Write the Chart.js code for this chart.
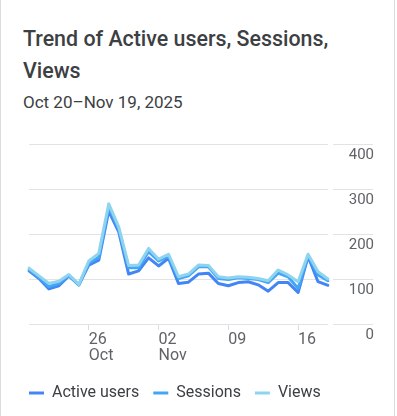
<!DOCTYPE html>
<html>
<head>
<meta charset="utf-8">
<script src="https://cdn.jsdelivr.net/npm/chart.js@4"></script>
<style>
  body { margin: 0; background: #fff; font-family: Roboto, sans-serif; }
  .card { position: relative; width: 393px; height: 416px; border-left: 1px solid #dadce0; border-right: 1px solid #dadce0; }
  .title { position: absolute; left: 22px; top: 23px; width: 360px; font-size: 21.4px; font-weight: 500; line-height: 32px; color: #3c4043; }
  .sub { position: absolute; left: 22px; top: 92px; font-size: 17px; line-height: 20px; color: #3c4043; }
  .box { position: absolute; left: 0; top: 130px; width: 393px; height: 286px; }
</style>
</head>
<body>
<div class="card">
  <div class="title">Trend of Active users, Sessions, Views</div>
  <div class="sub">Oct 20–Nov 19, 2025</div>
  <div class="box"><canvas id="trendChart"></canvas></div>
</div>
<script>
const dates = ["Oct 20","Oct 21","Oct 22","Oct 23","Oct 24","Oct 25","Oct 26","Oct 27","Oct 28","Oct 29","Oct 30","Oct 31",
  "Nov 01","Nov 02","Nov 03","Nov 04","Nov 05","Nov 06","Nov 07","Nov 08","Nov 09","Nov 10","Nov 11","Nov 12",
  "Nov 13","Nov 14","Nov 15","Nov 16","Nov 17","Nov 18","Nov 19"];
const activeUsers = [118,101,78,85,107,87,131,142,251,205,111,118,147,129,146,90,93,111,113,90,85,92,94,87,73,92,92,70,150,94,86];
const sessions = [121,104,83,90,108,87,135,148,260,210,125,125,161,140,150,101,107,127,127,101,99,103,101,99,92,113,105,79,152,109,96];
const views = [124,107,90,95,110,88,140,157,267,216,130,131,168,144,155,105,111,131,130,105,102,105,104,101,96,120,109,94,155,116,100];
const tickIdx = [6, 13, 20, 27];
const tickText = [["26", "Oct"], ["02", "Nov"], ["09"], ["16"]];
const yTicks = [0, 100, 200, 300, 400];

Chart.defaults.font.family = "Roboto";
Chart.defaults.font.size = 15;

const gridColor = "#e3e3e3";
const ctx = document.getElementById("trendChart").getContext("2d");
const trendChart = new Chart(ctx, {
  type: "line",
  data: {
    labels: dates,
    datasets: [
      { label: "Active users", data: activeUsers, borderColor: "#4285f4", backgroundColor: "#4285f4", borderWidth: 3, order: 2 },
      { label: "Sessions", data: sessions, borderColor: "#42a5f5", backgroundColor: "#42a5f5", borderWidth: 3, order: 1 },
      { label: "Views", data: views, borderColor: "#8fd4ef", backgroundColor: "#8fd4ef", borderWidth: 3, order: 0 }
    ]
  },
  options: {
    responsive: true,
    maintainAspectRatio: false,
    animation: false,
    layout: { padding: { left: 14, right: 20, top: 14, bottom: 5 } },
    elements: {
      line: { tension: 0, borderCapStyle: "round", borderJoinStyle: "round" },
      point: { radius: 0, hoverRadius: 0 }
    },
    plugins: {
      tooltip: { enabled: false },
      legend: {
        position: "bottom",
        align: "start",
        labels: {
          usePointStyle: true,
          pointStyle: "line",
          pointStyleWidth: 15,
          padding: 14,
          color: "#3c4043",
          font: { size: 16 },
          sort: (a, b) => a.datasetIndex - b.datasetIndex
        }
      }
    },
    scales: {
      x: {
        afterFit: s => { s.height = 47; },
        grid: {
          drawOnChartArea: false,
          drawTicks: true,
          tickLength: 6,
          tickColor: c => tickIdx.includes(c.index) ? "#dadce0" : "transparent"
        },
        border: { display: false },
        ticks: {
          autoSkip: false,
          maxRotation: 0,
          align: "start",
          padding: 2,
          color: "#5f6368",
          font: { size: 16, lineHeight: 1 },
          callback: (v, i) => {
            const k = tickIdx.indexOf(i);
            return k >= 0 ? tickText[k] : "";
          }
        }
      },
      y: {
        position: "right",
        min: 0,
        max: 400,
        afterBuildTicks: s => { s.ticks = yTicks.map(v => ({ value: v })); },
        afterFit: s => { s.width = 46; },
        grid: {
          color: gridColor,
          tickColor: gridColor,
          drawTicks: true,
          tickLength: 45,
          tickBorderDash: [0, 5, 40, 0]
        },
        border: { display: false },
        ticks: {
          crossAlign: "far",
          padding: -24,
          labelOffset: 11,
          color: "#5f6368",
          font: { size: 15 }
        }
      },
      yl: {
        type: "linear",
        position: "left",
        grid: { display: false },
        border: { display: false },
        ticks: { display: false },
        afterFit: s => { s.width = 14; }
      }
    }
  }
});
</script>
</body>
</html>
